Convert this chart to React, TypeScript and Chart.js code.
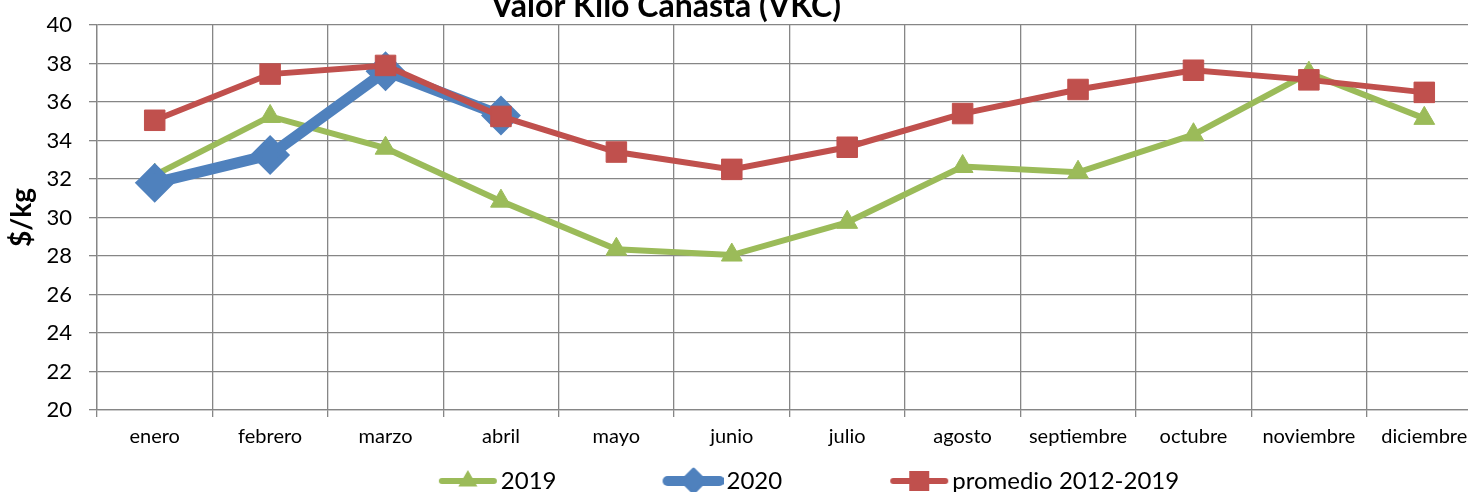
import { useEffect, useRef } from 'react';
import { Chart, registerables } from 'chart.js';

Chart.register(...registerables);

const TITLE = 'Valor Kilo Canasta (VKC)';
const Y_TITLE = '$/kg';
const MONTHS = ['enero', 'febrero', 'marzo', 'abril', 'mayo', 'junio', 'julio', 'agosto', 'septiembre', 'octubre', 'noviembre', 'diciembre'];
const SERIES_NAMES = ['2019', '2020', 'promedio 2012-2019'];
const VALUES_2019 = [32.2, 35.25, 33.6, 30.85, 28.35, 28.05, 29.75, 32.65, 32.35, 34.3, 37.5, 35.15];
const VALUES_2020 = [31.8, 33.25, 37.6, 35.3, null, null, null, null, null, null, null, null];
const VALUES_AVG = [35.05, 37.45, 37.9, 35.25, 33.4, 32.5, 33.65, 35.4, 36.65, 37.65, 37.15, 36.5];
const Y_TICKS = [20, 22, 24, 26, 28, 30, 32, 34, 36, 38, 40];

const GREEN = '#9BBB59';
const BLUE = '#4F81BD';
const RED = '#C0504D';
const GRID = '#868686';
const FONT = 'Lato';

function legendIcon(shape: string, color: string, lineW: number, r: number) {
  const c = document.createElement('canvas');
  c.width = 172;
  c.height = 40;
  const ctx = c.getContext('2d')!;
  const cy = 20;
  const x0 = 116;
  const x1 = 168;
  const cx = (x0 + x1) / 2;
  ctx.strokeStyle = color;
  ctx.fillStyle = color;
  ctx.lineWidth = lineW;
  ctx.lineCap = 'round';
  ctx.lineJoin = 'round';
  ctx.beginPath();
  ctx.moveTo(x0, cy);
  ctx.lineTo(x1, cy);
  ctx.stroke();
  ctx.beginPath();
  if (shape === 'triangle') {
    ctx.moveTo(cx, cy - r);
    ctx.lineTo(cx + r * 0.866, cy + r / 2);
    ctx.lineTo(cx - r * 0.866, cy + r / 2);
  } else if (shape === 'rectRot') {
    ctx.moveTo(cx, cy - r);
    ctx.lineTo(cx + r, cy);
    ctx.lineTo(cx, cy + r);
    ctx.lineTo(cx - r, cy);
  } else {
    ctx.rect(cx - r, cy - r, 2 * r, 2 * r);
  }
  ctx.closePath();
  ctx.fill();
  if (shape === 'rectRot') {
    ctx.lineWidth = 3;
    ctx.stroke();
  }
  return c;
}

const titlePlugin = {
  id: 'vkcTitle',
  afterDraw(chart: any) {
    const ctx = chart.ctx;
    ctx.save();
    ctx.font = `bold 32px ${FONT}`;
    ctx.fillStyle = '#000';
    ctx.textAlign = 'center';
    ctx.textBaseline = 'alphabetic';
    ctx.fillText(TITLE, 666, 47);
    ctx.restore();
  },
};

export default function App() {
  const ref = useRef<HTMLCanvasElement | null>(null);

  useEffect(() => {
    document.body.style.overflow = 'hidden';
    document.documentElement.style.overflow = 'hidden';
    const icons = [
      legendIcon('triangle', GREEN, 6, 11),
      legendIcon('rectRot', BLUE, 10, 12),
      legendIcon('rect', RED, 6, 10),
    ];
    const chart = new Chart(ref.current!, {
      type: 'line',
      data: {
        labels: MONTHS,
        datasets: [
          {
            label: SERIES_NAMES[0],
            data: VALUES_2019,
            borderColor: GREEN,
            backgroundColor: GREEN,
            borderWidth: 6,
            pointStyle: 'triangle',
            pointRadius: 12,
            pointBorderWidth: 1,
            pointBackgroundColor: GREEN,
            pointBorderColor: GREEN,
            tension: 0,
            order: 3,
          },
          {
            label: SERIES_NAMES[1],
            data: VALUES_2020,
            borderColor: BLUE,
            backgroundColor: BLUE,
            borderWidth: 11,
            pointStyle: 'rectRot',
            pointRadius: 15,
            pointBorderWidth: 7,
            pointBackgroundColor: BLUE,
            pointBorderColor: BLUE,
            borderJoinStyle: 'round',
            tension: 0,
            order: 2,
          },
          {
            label: SERIES_NAMES[2],
            data: VALUES_AVG,
            borderColor: RED,
            backgroundColor: RED,
            borderWidth: 6,
            pointStyle: 'rect',
            pointRadius: 14.5,
            pointBorderWidth: 1,
            pointBackgroundColor: RED,
            pointBorderColor: RED,
            tension: 0,
            order: 1,
          },
        ],
      },
      options: {
        animation: false,
        responsive: true,
        maintainAspectRatio: false,
        layout: { padding: { top: 55, left: 0, right: 0, bottom: 0 } },
        plugins: {
          title: { display: false },
          tooltip: { enabled: false },
          legend: {
            display: true,
            position: 'bottom',
            labels: {
              usePointStyle: true,
              pointStyleWidth: 154,
              padding: 4,
              color: '#000',
              font: { family: FONT, size: 24 },
              generateLabels: (c: any) =>
                c.data.datasets.map((ds: any, i: number) => ({
                  text: ds.label,
                  pointStyle: icons[i],
                  fillStyle: 'transparent',
                  strokeStyle: 'transparent',
                  lineWidth: 0,
                  hidden: false,
                  datasetIndex: i,
                  fontColor: '#000',
                })),
            },
          },
        },
        scales: {
          x: {
            type: 'category',
            offset: true,
            grid: { display: true, offset: true, color: GRID, lineWidth: 1.3, tickLength: 7 },
            border: { display: true, color: GRID, width: 1.3 },
            ticks: { color: '#000', font: { family: FONT, size: 20 }, padding: 8, maxRotation: 0, autoSkip: false },
            afterFit: (s: any) => {
              s.height = 55;
            },
          },
          y: {
            type: 'linear',
            min: Y_TICKS[0],
            max: Y_TICKS[Y_TICKS.length - 1],
            afterBuildTicks: (s: any) => {
              s.ticks = Y_TICKS.map((v) => ({ value: v }));
            },
            grid: { display: true, color: GRID, lineWidth: 1.3, tickLength: 8 },
            border: { display: true, color: GRID, width: 1.3 },
            ticks: { color: '#000', font: { family: FONT, size: 22 }, padding: 17 },
            title: {
              display: true,
              text: Y_TITLE,
              color: '#000',
              font: { family: FONT, size: 28, weight: 'bold' },
              padding: { top: 5, bottom: 0 },
            },
            afterFit: (s: any) => {
              s.width = 97;
            },
          },
          y2: {
            type: 'linear',
            position: 'right',
            display: true,
            grid: { display: false, drawTicks: false },
            border: { display: false },
            ticks: { display: false },
            afterFit: (s: any) => {
              s.width = 32;
            },
          },
        },
      },
      plugins: [titlePlugin],
    } as any);
    return () => chart.destroy();
  }, []);

  return (
    <div style={{ position: 'fixed', left: 0, top: -30, width: 1514, height: 533 }}>
      <canvas ref={ref} />
    </div>
  );
}
